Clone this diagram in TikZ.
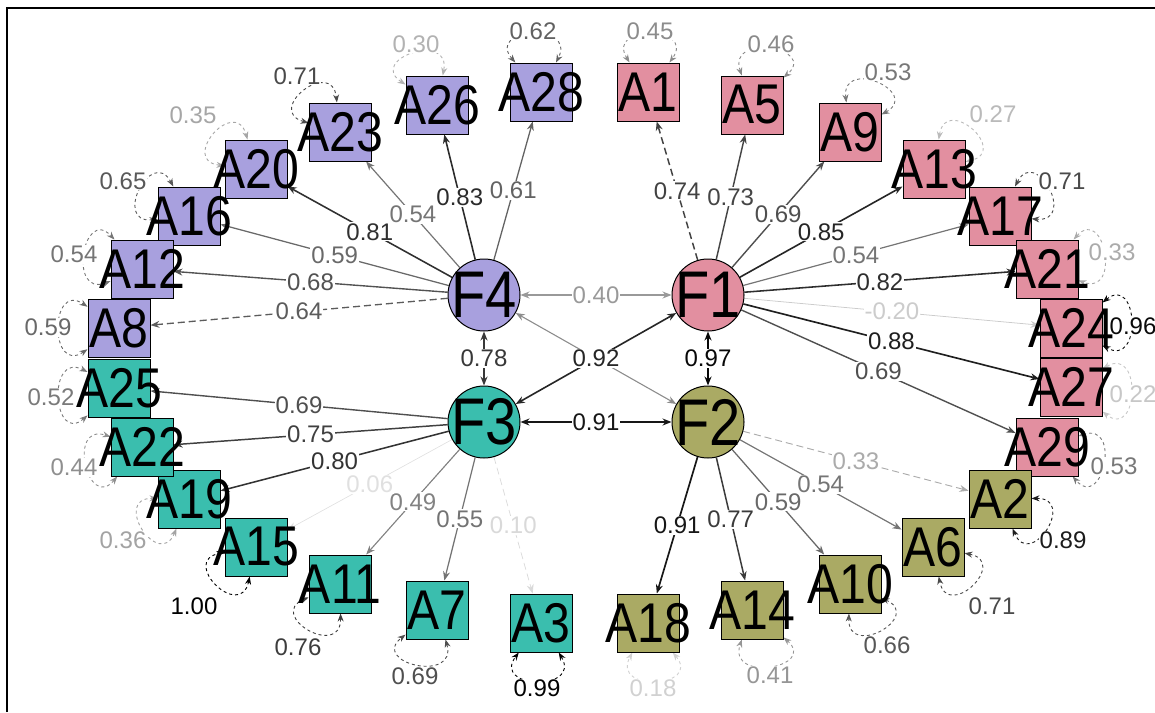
\documentclass[tikz,border=0pt]{standalone}
\usepackage{fontspec}
\setmainfont{Liberation Sans}
\usepackage{graphicx}
\usetikzlibrary{arrows.meta}
\definecolor{cpur}{HTML}{A8A0DE}
\definecolor{cpink}{HTML}{E28FA0}
\definecolor{cteal}{HTML}{3ABEAE}
\definecolor{coliv}{HTML}{AAAA64}
\pgfdeclarelayer{bg}\pgfsetlayers{bg,main}
\tikzset{
 lat/.style={circle,draw,line width=1pt,minimum size=72pt,inner sep=0pt,font=\fontsize{66}{66}\selectfont},
 man/.style={rectangle,draw,line width=1pt,minimum width=62pt,minimum height=58pt,inner sep=0pt,font=\fontsize{56}{56}\selectfont},
 elab/.style={fill=white,inner sep=1pt,font=\fontsize{24}{24}\selectfont},
 ldash/.style={dash pattern=on 7pt off 4pt},
 frame/.style={line width=1.6pt},
}
\newcommand\Bl[1]{\makebox[0pt]{\scalebox{0.86}[1]{#1}}}
\newcommand\Fl[1]{\makebox[0pt]{\scalebox{0.85}[1]{#1}}}
\newcommand\Ld[5][solid]{%
  \pgfmathsetmacro\lw{0.5+1.3*#4/100}%
  \draw[-{Stealth[length=9pt,width=7pt]}, draw=black!#4, line width=\lw pt, #1] (#2) -- (#3) node[pos=0.5,elab,text=black!#4]{#5};}
\newcommand\Cv[4]{%
  \pgfmathsetmacro\lw{0.5+1.3*#3/100}%
  \draw[{Stealth[length=9pt,width=7pt]}-{Stealth[length=9pt,width=7pt]}, draw=black!#3, line width=\lw pt] (#1) -- (#2) node[pos=0.5,elab,text=black!#3]{#4};}
\newcommand\Rs[6]{%
  \pgfmathtruncatemacro\ra{mod(#2+34+360,360)}%
  \pgfmathtruncatemacro\rb{mod(#2-34+360,360)}%
  \draw[{Stealth[length=8pt,width=6pt]}-{Stealth[length=8pt,width=6pt]}, draw=black!#6, line width=0.9pt, dash pattern=on 3pt off 3pt] (#1.\ra) .. controls +(\ra:46) and +(\rb:46) .. (#1.\rb);
  \node[elab,text=black!#6] at (#3,-#4) {#5};}
\begin{document}
\begin{tikzpicture}[x=1pt,y=1pt]
\useasboundingbox (0,0) rectangle (1155,-712);
\draw[frame] (7,-712) -- (7,-8) -- (1155,-8);
% latent
\node[lat,fill=cpur]  (F4) at (484,-295) {\Fl{F4}};
\node[lat,fill=cpink] (F1) at (708,-295) {\Fl{F1}};
\node[lat,fill=cteal] (F3) at (484,-422) {\Fl{F3}};
\node[lat,fill=coliv] (F2) at (708,-422) {\Fl{F2}};
% manifest purple
\node[man,fill=cpur] (A26) at (437,-105) {\Bl{A26}};
\node[man,fill=cpur] (A28) at (541,-92) {\Bl{A28}};
\node[man,fill=cpur] (A23) at (340,-132) {\Bl{A23}};
\node[man,fill=cpur] (A20) at (256,-169) {\Bl{A20}};
\node[man,fill=cpur] (A16) at (189,-216) {\Bl{A16}};
\node[man,fill=cpur] (A12) at (142,-269) {\Bl{A12}};
\node[man,fill=cpur] (A8)  at (119,-328) {\Bl{A8}};
% pink
\node[man,fill=cpink] (A1)  at (648,-92) {\Bl{A1}};
\node[man,fill=cpink] (A5)  at (752,-105) {\Bl{A5}};
\node[man,fill=cpink] (A9)  at (850,-132) {\Bl{A9}};
\node[man,fill=cpink] (A13) at (934,-169) {\Bl{A13}};
\node[man,fill=cpink] (A17) at (1000,-216) {\Bl{A17}};
\node[man,fill=cpink] (A21) at (1047,-269) {\Bl{A21}};
\node[man,fill=cpink] (A24) at (1071,-328) {\Bl{A24}};
\node[man,fill=cpink] (A27) at (1071,-387) {\Bl{A27}};
\node[man,fill=cpink] (A29) at (1047,-447) {\Bl{A29}};
% olive
\node[man,fill=coliv] (A2)  at (1000,-499) {\Bl{A2}};
\node[man,fill=coliv] (A6)  at (933,-547) {\Bl{A6}};
\node[man,fill=coliv] (A10) at (850,-584) {\Bl{A10}};
\node[man,fill=coliv] (A14) at (752,-610) {\Bl{A14}};
\node[man,fill=coliv] (A18) at (648,-623) {\Bl{A18}};
% teal
\node[man,fill=cteal] (A3)  at (541,-623) {\Bl{A3}};
\node[man,fill=cteal] (A7)  at (437,-610) {\Bl{A7}};
\node[man,fill=cteal] (A11) at (340,-584) {\Bl{A11}};
\node[man,fill=cteal] (A15) at (256,-547) {\Bl{A15}};
\node[man,fill=cteal] (A19) at (189,-499) {\Bl{A19}};
\node[man,fill=cteal] (A22) at (142,-447) {\Bl{A22}};
\node[man,fill=cteal] (A25) at (119,-388) {\Bl{A25}};
\begin{pgfonlayer}{bg}
% loadings F4
\Ld{F4}{A26}{83}{0.83}
\Ld{F4}{A28}{61}{0.61}
\Ld{F4}{A23}{54}{0.54}
\Ld{F4}{A20}{81}{0.81}
\Ld{F4}{A16}{59}{0.59}
\Ld{F4}{A12}{68}{0.68}
\Ld[ldash]{F4}{A8}{64}{0.64}
% F1
\Ld[ldash]{F1}{A1}{74}{0.74}
\Ld{F1}{A5}{73}{0.73}
\Ld{F1}{A9}{69}{0.69}
\Ld{F1}{A13}{85}{0.85}
\Ld{F1}{A17}{54}{0.54}
\Ld{F1}{A21}{82}{0.82}
\Ld{F1}{A24}{20}{-0.20}
\Ld{F1}{A27}{88}{0.88}
\Ld{F1}{A29}{69}{0.69}
% F2
\Ld[ldash]{F2}{A2}{33}{0.33}
\Ld{F2}{A6}{54}{0.54}
\Ld{F2}{A10}{59}{0.59}
\Ld{F2}{A14}{77}{0.77}
\Ld{F2}{A18}{91}{0.91}
% F3
\Ld[ldash]{F3}{A3}{15}{0.10}
\Ld{F3}{A7}{55}{0.55}
\Ld{F3}{A11}{49}{0.49}
\Ld{F3}{A15}{12}{0.06}
\Ld{F3}{A19}{80}{0.80}
\Ld{F3}{A22}{75}{0.75}
\Ld{F3}{A25}{69}{0.69}
% covariances
\Cv{F4}{F1}{40}{0.40}
\Cv{F4}{F3}{78}{0.78}
\Cv{F1}{F2}{97}{0.97}
\Cv{F3}{F2}{91}{0.91}
\Cv{F4}{F2}{45}{0.92}
\Cv{F3}{F1}{85}{0.92}
% residuals
\Rs{A26}{113}{416}{44}{0.30}{30}
\Rs{A28}{97}{533}{31}{0.62}{62}
\Rs{A1}{88}{650}{31}{0.45}{45}
\Rs{A5}{75}{771}{44}{0.46}{46}
\Rs{A9}{63}{888}{72}{0.53}{53}
\Rs{A13}{47}{993}{114}{0.27}{27}
\Rs{A17}{29}{1062}{181}{0.71}{71}
\Rs{A21}{14}{1112}{252}{0.33}{33}
\Rs{A24}{5}{1133}{326}{0.96}{96}
\Rs{A27}{-4}{1133}{394}{0.22}{22}
\Rs{A29}{-15}{1114}{466}{0.53}{53}
\Rs{A2}{-33}{1063}{540}{0.89}{89}
\Rs{A6}{-45}{992}{606}{0.71}{71}
\Rs{A10}{-58}{887}{645}{0.66}{66}
\Rs{A14}{-75}{770}{675}{0.41}{41}
\Rs{A18}{-84}{653}{688}{0.18}{18}
\Rs{A3}{-93}{537}{688}{0.99}{99}
\Rs{A7}{-108}{415}{676}{0.69}{69}
\Rs{A11}{-123}{298}{647}{0.76}{76}
\Rs{A15}{-136}{194}{606}{1.00}{100}
\Rs{A19}{-147}{123}{540}{0.36}{36}
\Rs{A22}{-164}{74}{467}{0.44}{44}
\Rs{A25}{-173}{51}{397}{0.52}{52}
\Rs{A8}{180}{48}{327}{0.59}{59}
\Rs{A12}{167}{74}{254}{0.54}{54}
\Rs{A16}{152}{123}{181}{0.65}{65}
\Rs{A20}{140}{193}{115}{0.35}{35}
\Rs{A23}{130}{297}{76}{0.71}{71}
\end{pgfonlayer}
\end{tikzpicture}
\end{document}
